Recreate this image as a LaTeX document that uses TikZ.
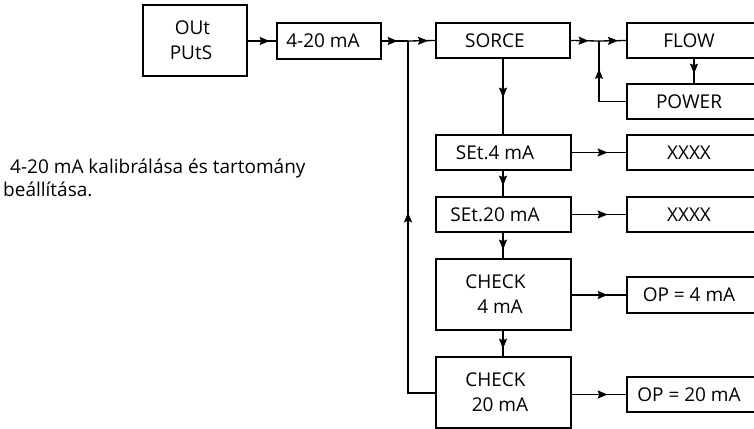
\documentclass[tikz,border=0pt]{standalone}
\usepackage{fontspec}
\setmainfont{Open Sans}
\usetikzlibrary{arrows.meta,decorations.markings}

\tikzset{
  x=1pt, y=-1pt,
  box/.style={draw, line width=1.3pt, inner sep=0pt, font=\fontsize{19}{25}\selectfont, align=center},
  wire/.style={line width=1.3pt},
  tip/.style={postaction={decorate},
    decoration={markings, mark=at position #1 with {\arrow{Stealth[length=10pt,width=8pt,inset=1.5pt]}}}},
}

\begin{document}
\begin{tikzpicture}
\useasboundingbox (0,0) rectangle (754,428);
\clip (0,0) rectangle (754,428);

% left column of boxes
\node[box, minimum width=104pt, minimum height=71pt] (outputs) at (195,40.5) {OUt\kern5pt\\PUtS\kern8pt};
\node[box, minimum width=104pt, minimum height=36pt] (range) at (329,41) {4-20 mA\kern12pt};

% source selection
\node[box, minimum width=134pt, minimum height=35pt] (sorce) at (503,40.5) {SORCE\kern16pt};
\node[box, minimum width=143pt, minimum height=35pt] (flow) at (698.5,40.5) {FLOW\kern19pt};
\node[box, minimum width=143pt, minimum height=35pt] (power) at (698.5,101.5) {POWER\kern19pt};

% calibration steps
\node[box, minimum width=135pt, minimum height=35pt] (set4) at (503.5,152.5) {SEt.4 mA\kern17pt};
\node[box, minimum width=143pt, minimum height=35pt] (val4) at (698.5,152.5) {XXXX\kern19pt};
\node[box, minimum width=135pt, minimum height=35pt] (set20) at (503.5,214.5) {SEt.20 mA\kern17pt};
\node[box, minimum width=143pt, minimum height=35pt] (val20) at (698.5,214.5) {XXXX\kern19pt};
\node[box, minimum width=135pt, minimum height=71pt] (chk4) at (503.5,294.5) {CHECK\kern16pt\\4 mA\kern7pt};
\node[box, minimum width=143pt, minimum height=36pt] (op4) at (698.5,295) {OP = 4 mA\kern19pt};
\node[box, minimum width=135pt, minimum height=71pt] (chk20) at (503.5,392.5) {CHECK\kern16pt\\20 mA\kern7pt};
\node[box, minimum width=143pt, minimum height=35pt] (op20) at (698.5,394.5) {OP = 20 mA\kern19pt};

% annotation
\node[anchor=north west, inner sep=0pt, align=left, font=\fontsize{19}{23}\selectfont] (note) at (3,159)
  {\kern7pt 4-20 mA kalibrálása és tartomány\\beállítása.};

% junctions
\coordinate (j1) at (408,41);
\coordinate (j2) at (599,41);

% connectors
\draw[wire, tip=22pt] (outputs.east |- range.west) -- (range.west);
\draw[wire, tip=16pt] (range.east) -- (j1);
\draw[wire, tip=20pt] (j1) -- (sorce.west);
\draw[wire, tip=18pt] (sorce.east) -- (j2);
\draw[wire, tip=19pt] (j2) -- (flow.west);
\draw[wire, tip=15pt] (flow.south -| 694,0) -- (power.north -| 694,0);
\draw[wire, tip=60pt] (power.west) -| (j2);

\draw[wire, tip=39pt] (sorce.south) -- (set4.north -| sorce.south);
\draw[wire, tip=36pt] (set4.east) -- (val4.west |- set4.east);
\draw[wire, tip=15pt] (set4.south -| sorce.south) -- (set20.north -| sorce.south);
\draw[wire, tip=36pt] (set20.east) -- (val20.west |- set20.east);
\draw[wire, tip=17pt] (set20.south -| sorce.south) -- (chk4.north -| sorce.south);
\draw[wire, tip=36pt] (chk4.east |- op4.west) -- (op4.west);
\draw[wire, tip=18pt] (chk4.south -| sorce.south) -- (chk20.north -| sorce.south);
\draw[wire, tip=36pt] (chk20.east |- op20.west) -- (op20.west);
\draw[wire, tip=208pt] (chk20.west |- 0,393) -| (j1);
\end{tikzpicture}
\end{document}
